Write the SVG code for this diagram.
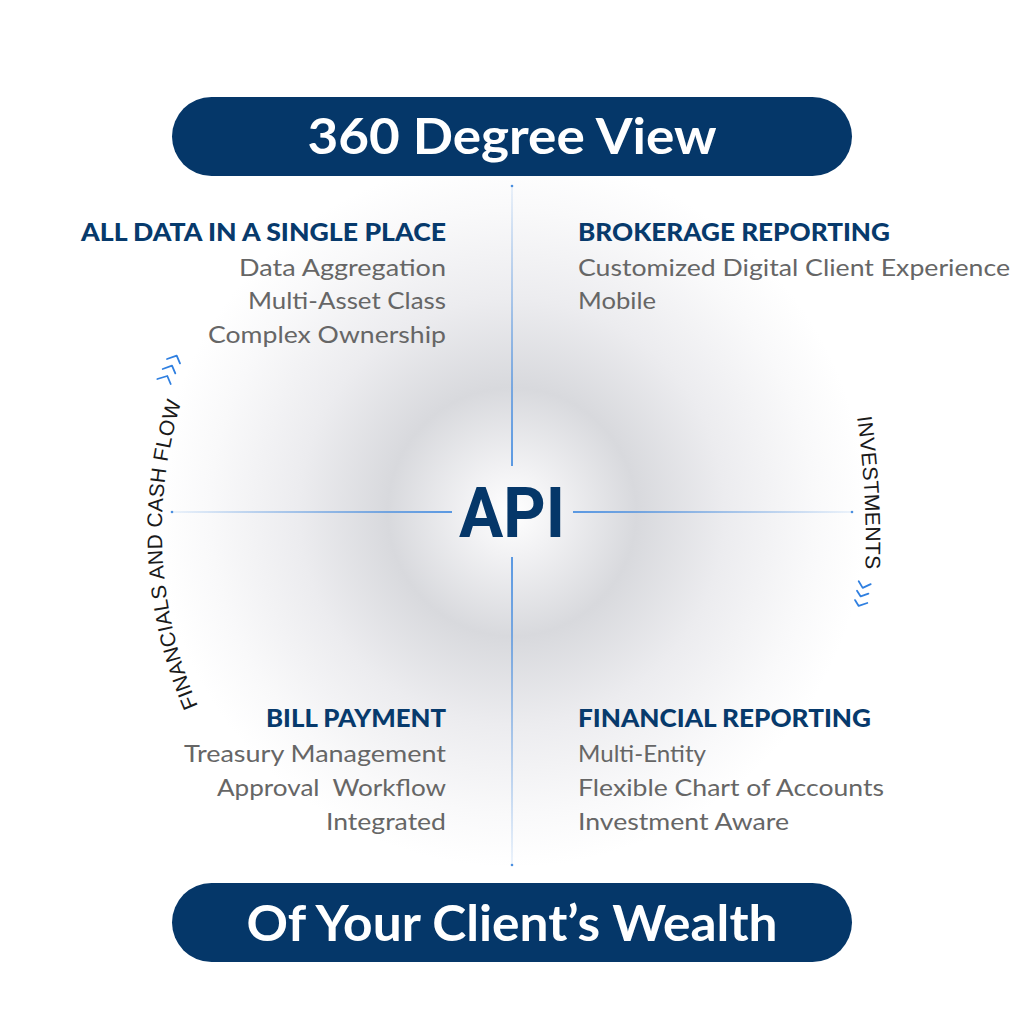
<svg xmlns="http://www.w3.org/2000/svg" width="1024" height="1024" viewBox="0 0 1024 1024">
<style>
.pill{fill:#053769}
.pilltxt{font-family:Lato,"Noto Sans",sans-serif;font-weight:700;font-size:50px;fill:#ffffff;text-anchor:middle}
.head{font-family:Lato,"Noto Sans",sans-serif;font-weight:900;font-size:24px;fill:#073a6c}
.body{font-family:Lato,"Noto Sans",sans-serif;font-weight:400;font-size:24px;fill:#666666}
.r{text-anchor:end}
.arc{font-family:"Liberation Sans",Arial,sans-serif;font-size:21px;fill:#1a1a1a;letter-spacing:0.3px}
.chev{fill:none;stroke:#2f7fe0;stroke-width:1.8;stroke-linecap:round;stroke-linejoin:round}
.dot{fill:#4a8fe0}
</style>
<defs>
<radialGradient id="glow" cx="512" cy="512" r="355" gradientUnits="userSpaceOnUse">
<stop offset="0" stop-color="#ffffff"/>
<stop offset="0.12" stop-color="#f2f2f4"/>
<stop offset="0.35" stop-color="#d8d9dd"/>
<stop offset="0.6" stop-color="#ececef"/>
<stop offset="0.85" stop-color="#f9f9fa"/>
<stop offset="1" stop-color="#ffffff"/>
</radialGradient>
<linearGradient id="hl" x1="0" y1="0" x2="1" y2="0">
<stop offset="0" stop-color="#4a8fe0" stop-opacity="0.1"/>
<stop offset="1" stop-color="#4a8fe0" stop-opacity="0.9"/>
</linearGradient>
<linearGradient id="hr" x1="0" y1="0" x2="1" y2="0">
<stop offset="0" stop-color="#4a8fe0" stop-opacity="0.9"/>
<stop offset="1" stop-color="#4a8fe0" stop-opacity="0.1"/>
</linearGradient>
<linearGradient id="vt" x1="0" y1="0" x2="0" y2="1">
<stop offset="0" stop-color="#4a8fe0" stop-opacity="0.1"/>
<stop offset="1" stop-color="#4a8fe0" stop-opacity="0.9"/>
</linearGradient>
<linearGradient id="vb" x1="0" y1="0" x2="0" y2="1">
<stop offset="0" stop-color="#4a8fe0" stop-opacity="0.9"/>
<stop offset="1" stop-color="#4a8fe0" stop-opacity="0.1"/>
</linearGradient>
<path id="leftArc" d="M 198 706 A 440 440 0 0 1 186 388"/>
<path id="rightArc" d="M 857 417 A 900 900 0 0 1 865 578"/>
</defs>
<rect width="1024" height="1024" fill="#ffffff"/>
<circle cx="512" cy="512" r="355" fill="url(#glow)"/>

<g id="connectors">
<rect x="172" y="511" width="280" height="2" fill="url(#hl)"/>
<rect x="573" y="511" width="279" height="2" fill="url(#hr)"/>
<rect x="511" y="186" width="2" height="280" fill="url(#vt)"/>
<rect x="511" y="557" width="2" height="308" fill="url(#vb)"/>
<circle class="dot" cx="172" cy="512" r="1.3"/>
<circle class="dot" cx="852" cy="512" r="1.3"/>
<circle class="dot" cx="512" cy="186" r="1.3"/>
<circle class="dot" cx="512" cy="865" r="1.3"/>
</g>

<g id="top-banner">
<rect class="pill" x="172" y="97" width="680" height="79" rx="39.5"/>
<text class="pilltxt" x="512" y="154" textLength="409" lengthAdjust="spacingAndGlyphs">360 Degree View</text>
</g>

<g id="bottom-banner">
<rect class="pill" x="172" y="883" width="680" height="79" rx="39.5"/>
<text class="pilltxt" x="512" y="941" textLength="531" lengthAdjust="spacingAndGlyphs">Of Your Client’s Wealth</text>
</g>

<g id="api">
<text x="512" y="537" font-family="Roboto,'Liberation Sans',sans-serif" font-weight="700" font-size="70" fill="#053769" text-anchor="middle" textLength="106" lengthAdjust="spacingAndGlyphs">API</text>
</g>

<g id="all-data">
<text class="head r" x="446" y="241" textLength="365" lengthAdjust="spacingAndGlyphs">ALL DATA IN A SINGLE PLACE</text>
<text class="body r" x="446" y="276" textLength="207" lengthAdjust="spacingAndGlyphs">Data Aggregation</text>
<text class="body r" x="446" y="309" textLength="198" lengthAdjust="spacingAndGlyphs">Multi-Asset Class</text>
<text class="body r" x="446" y="343" textLength="238" lengthAdjust="spacingAndGlyphs">Complex Ownership</text>
</g>

<g id="brokerage">
<text class="head" x="578" y="241" textLength="312" lengthAdjust="spacingAndGlyphs">BROKERAGE REPORTING</text>
<text class="body" x="578" y="276" textLength="432" lengthAdjust="spacingAndGlyphs">Customized Digital Client Experience</text>
<text class="body" x="578" y="309" textLength="78" lengthAdjust="spacingAndGlyphs">Mobile</text>
</g>

<g id="bill-payment">
<text class="head r" x="446" y="727" textLength="180" lengthAdjust="spacingAndGlyphs">BILL PAYMENT</text>
<text class="body r" x="446" y="762" textLength="262" lengthAdjust="spacingAndGlyphs">Treasury Management</text>
<text class="body r" x="446" y="796" textLength="229" lengthAdjust="spacingAndGlyphs" xml:space="preserve">Approval  Workflow</text>
<text class="body r" x="446" y="830" textLength="120" lengthAdjust="spacingAndGlyphs">Integrated</text>
</g>

<g id="financial-reporting">
<text class="head" x="578" y="727" textLength="293" lengthAdjust="spacingAndGlyphs">FINANCIAL REPORTING</text>
<text class="body" x="578" y="762" textLength="128" lengthAdjust="spacingAndGlyphs">Multi-Entity</text>
<text class="body" x="578" y="796" textLength="306" lengthAdjust="spacingAndGlyphs">Flexible Chart of Accounts</text>
<text class="body" x="578" y="830" textLength="211" lengthAdjust="spacingAndGlyphs">Investment Aware</text>
</g>

<g id="financials-cash-flow">
<text class="arc"><textPath href="#leftArc">FINANCIALS AND CASH FLOW</textPath></text>
<polyline class="chev" points="167,359 176.7,355.7 180,363.3"/>
<polyline class="chev" points="162.7,369 172,365.7 175.3,373.3"/>
<polyline class="chev" points="157.3,379 167.3,376 170.7,384"/>
</g>

<g id="investments">
<text class="arc"><textPath href="#rightArc">INVESTMENTS</textPath></text>
<polyline class="chev" points="858.7,581.3 862.7,587.9 870.7,584.1"/>
<polyline class="chev" points="857,590.7 860.7,596.4 868.4,593.6"/>
<polyline class="chev" points="855,600.1 858.7,605.9 867.3,603"/>
</g>
</svg>
